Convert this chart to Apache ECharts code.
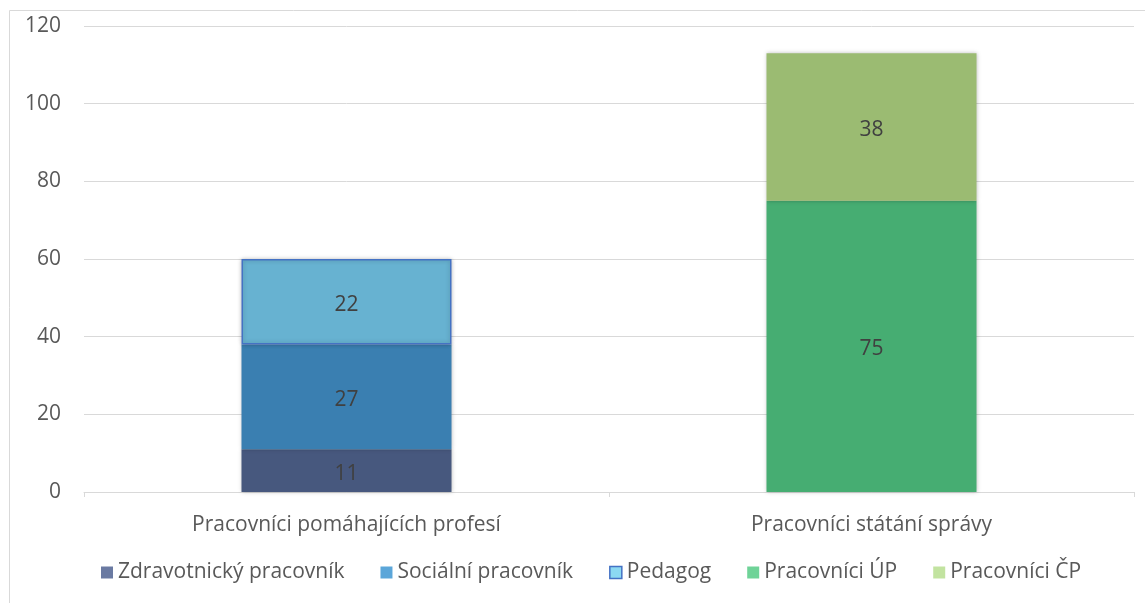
<!DOCTYPE html>
<html><head><meta charset="utf-8">
<script src="https://cdn.jsdelivr.net/npm/echarts@6/dist/echarts.min.js"></script>
<style>html,body{margin:0;padding:0;background:#fff}#c{width:1145px;height:603px}</style>
</head><body><div id="c"></div>
<script>
const categories = ['Pracovníci pomáhajících profesí', 'Pracovníci státání správy'];
const seriesNames = ['Zdravotnický pracovník', 'Sociální pracovník', 'Pedagog', 'Pracovníci ÚP', 'Pracovníci ČP'];
const zdravotnicky = [11, '-'];
const socialni = [27, '-'];
const pedagog = [22, '-'];
const pracovniciUP = ['-', 75];
const pracovniciCP = ['-', 38];
const yTicks = [0, 20, 40, 60, 80, 100, 120];

const barColors = ['#47587e', '#3a7fb1', '#67b2d1', '#46ad72', '#9bbb72'];
const legendColors = ['#6a7aa2', '#5ba6d9', '#8cd9f2', '#6fd398', '#c2e3a0'];
const values = [zdravotnicky, socialni, pedagog, pracovniciUP, pracovniciCP];

const font = 'Open Sans, Noto Sans, sans-serif';
const chart = echarts.init(document.getElementById('c'), null, {renderer: 'canvas'});
chart.setOption({
  animation: false,
  graphic: [{type: 'rect', left: 7, top: 8, shape: {width: 1150, height: 600}, style: {fill: 'none', stroke: '#d9d9d9', lineWidth: 1}, z: -1}],
  grid: {left: 84, right: 11, top: 26, bottom: 111, containLabel: false},
  legend: {
    top: 562, left: 101, padding: 0, itemWidth: 12, itemHeight: 12, itemGap: 36,
    textStyle: {color: '#595959', fontSize: 21, fontFamily: font},
    data: seriesNames.map((n, i) => ({name: n, icon: 'rect', itemStyle: i === 2 ? {color: legendColors[i], borderColor: '#4472c4', borderWidth: 1.5} : {color: legendColors[i], borderWidth: 0}}))
  },
  xAxis: {
    type: 'category', data: categories,
    axisLine: {lineStyle: {color: '#d9d9d9'}},
    axisTick: {show: true, length: 5, lineStyle: {color: '#d9d9d9'}},
    axisLabel: {color: '#595959', fontSize: 21, fontFamily: font, margin: 23}
  },
  yAxis: {
    type: 'value', min: 0, max: 120, interval: 20,
    axisLine: {show: false}, axisTick: {show: false},
    splitLine: {lineStyle: {color: '#d9d9d9'}},
    axisLabel: {color: '#595959', fontSize: 21, fontFamily: font, margin: 23, padding: [4, 0, 0, 0],
      formatter: v => yTicks.includes(v) ? String(v) : ''}
  },
  series: seriesNames.map((n, i) => ({
    name: n, type: 'bar', stack: 'all', barWidth: '40%', data: values[i],
    itemStyle: Object.assign({color: barColors[i], shadowBlur: 4, shadowColor: 'rgba(0,0,0,0.25)'},
      i === 2 ? {borderColor: '#4472c4', borderWidth: 1.5} : {}),
    label: {show: true, position: 'inside', offset: [0, 3], color: '#404040', fontSize: 21, fontFamily: font}
  }))
});
</script></body></html>
